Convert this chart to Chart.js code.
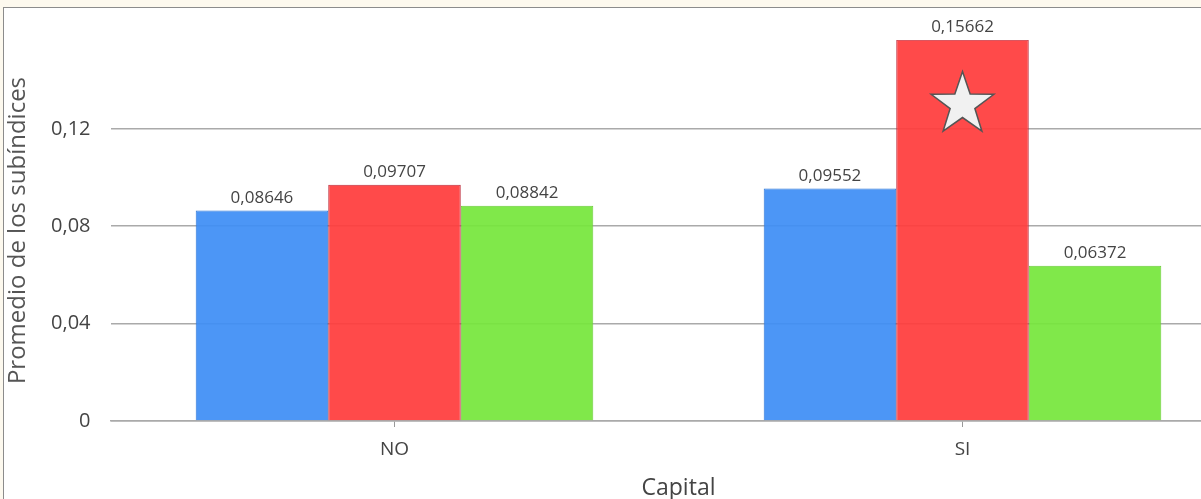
<!DOCTYPE html>
<html>
<head>
<meta charset="utf-8">
<script src="https://cdn.jsdelivr.net/npm/chart.js@4/dist/chart.umd.min.js"></script>
<style>
  html, body { margin: 0; padding: 0; width: 1201px; height: 499px; overflow: hidden; background: #fdf9ee; }
  #frame { position: absolute; left: 3px; top: 7px; width: 1240px; height: 500px; background: #fff;
           border-top: 1px solid #8c8c8c; border-left: 1px solid #8c8c8c; overflow: hidden; }
  #chart { position: absolute; left: 0; top: 0; }
</style>
</head>
<body>
<div id="frame"><canvas id="chart" width="1250" height="494"></canvas></div>
<script>
var categories = ['NO', 'SI'];
var serieA = [0.08646, 0.09552];
var serieB = [0.09707, 0.15662];
var serieC = [0.08842, 0.06372];
var yTicks = [0, 0.04, 0.08, 0.12];
var starCategory = 1;   // SI
var starSeries = 1;     // barra roja
var starValue = 0.13;

var fontName = '"Open Sans", "DejaVu Sans", sans-serif';

function comma(v, dec) {
    return v.toFixed(dec).replace('.', ',');
}

// etiquetas de valor encima de cada barra
var valueLabels = {
    id: 'valueLabels',
    afterDatasetsDraw: function(chart) {
        var ctx = chart.ctx;
        ctx.save();
        ctx.font = '17px ' + fontName;
        ctx.fillStyle = '#444';
        ctx.textAlign = 'center';
        ctx.textBaseline = 'bottom';
        chart.data.datasets.forEach(function(ds, i) {
            chart.getDatasetMeta(i).data.forEach(function(bar, j) {
                ctx.fillText(comma(ds.data[j], 5), bar.x, bar.y - 4);
            });
        });
        ctx.restore();
    }
};

// estrella sobre la barra destacada
var starMark = {
    id: 'starMark',
    afterDatasetsDraw: function(chart) {
        var bar = chart.getDatasetMeta(starSeries).data[starCategory];
        var cx = bar.x;
        var cy = chart.scales.y.getPixelForValue(starValue);
        var R = 33, r = 13;
        var ctx = chart.ctx;
        ctx.save();
        ctx.beginPath();
        for (var k = 0; k < 10; k++) {
            var ang = -Math.PI / 2 + k * Math.PI / 5;
            var rad = (k % 2 === 0) ? R : r;
            var px = cx + rad * Math.cos(ang);
            var py = cy + rad * Math.sin(ang);
            if (k === 0) ctx.moveTo(px, py); else ctx.lineTo(px, py);
        }
        ctx.closePath();
        ctx.fillStyle = '#f1f1f1';
        ctx.fill();
        ctx.lineWidth = 1.5;
        ctx.strokeStyle = '#555';
        ctx.stroke();
        ctx.restore();
    }
};

var ctx = document.getElementById('chart');
var chart = new Chart(ctx, {
    type: 'bar',
    data: {
        labels: categories,
        datasets: [{
            data: serieA,
            backgroundColor: 'rgba(62,142,245,0.93)',
            borderColor: 'rgba(50,120,215,1)',
            borderWidth: 1
        }, {
            data: serieB,
            backgroundColor: 'rgba(255,60,60,0.93)',
            borderColor: 'rgba(190,45,60,1)',
            borderWidth: 1
        }, {
            data: serieC,
            backgroundColor: 'rgba(118,230,60,0.93)',
            borderColor: 'rgba(110,205,60,1)',
            borderWidth: 1
        }]
    },
    options: {
        responsive: false,
        animation: false,
        devicePixelRatio: 1,
        layout: { padding: { top: 0, right: 7.5, left: 0, bottom: 0 } },
        plugins: {
            legend: { display: false },
            tooltip: { enabled: false }
        },
        datasets: {
            bar: { categoryPercentage: 0.7, barPercentage: 1.0 }
        },
        scales: {
            x: {
                grid: { display: true, drawOnChartArea: false, offset: false, tickLength: 6, color: '#999' },
                border: { display: true, color: '#aaa', width: 1.5 },
                ticks: { color: '#444', font: { family: fontName, size: 19 }, padding: 11 },
                title: { display: true, text: 'Capital', color: '#444', font: { family: fontName, size: 23 }, padding: { top: 2, bottom: 0 } },
                afterFit: function(scale) { scale.height = 81; }
            },
            y: {
                min: 0,
                max: 0.1565,
                afterBuildTicks: function(scale) {
                    scale.ticks = yTicks.map(function(v) { return { value: v }; });
                },
                grid: { color: '#aaa', lineWidth: 1.5, drawTicks: false },
                border: { display: false },
                ticks: {
                    color: '#444',
                    font: { family: fontName, size: 20 },
                    padding: 20,
                    callback: function(v) { return v === 0 ? '0' : comma(v, 2); }
                },
                title: { display: true, text: 'Promedio de los subíndices', color: '#555', font: { family: fontName, size: 24 }, padding: { top: 0, bottom: 4 } },
                afterFit: function(scale) { scale.width = 106.5; }
            }
        }
    },
    plugins: [valueLabels, starMark]
});
</script>
</body>
</html>
